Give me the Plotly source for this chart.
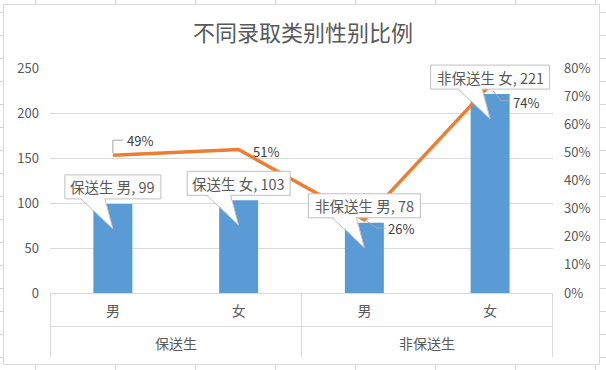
import plotly.graph_objects as go

# ---------------- data ----------------
groups = ["保送生", "保送生", "非保送生", "非保送生"]
genders = ["男", "女", "男", "女"]
group_names = ["保送生", "非保送生"]
counts = [99, 103, 78, 221]
ratios = [0.49, 0.51, 0.26, 0.74]
y_ticks = [0, 50, 100, 150, 200, 250]
y2_ticks = [0, 0.1, 0.2, 0.3, 0.4, 0.5, 0.6, 0.7, 0.8]
title_text = "不同录取类别性别比例"

# ---------------- style / layout ----------------
W, H = 606, 370
L, R, T, B = 50, 53, 68, 77
PW, PH = W - L - R, H - T - B
Y_MAX = 250
Y2_MAX = 0.8
FONT = "Noto Sans CJK SC, Noto Sans, sans-serif"
GRAY_TXT = "#595959"
DARK_TXT = "#404040"
LINE_GRAY = "#D9D9D9"
CALLOUT_BORDER = "#BFBFBF"
BOX_W = [96, 103, 112, 119]
BOX_H = 24
BOX_GAP = 5
LEADERS = [
    ("M 0,2 L 0,15 L 10,15", 27.5, 14.5),
    (None, 27.5, -2),
    ("M 2.7,-1.6 L 12.7,-8.2 L 21,-8.2", 37, -9),
    ("M 2.7,-5.8 L 11,-15.8 L 19,-15.8", 36, -18),
]

xs = list(range(len(counts)))


def pxx(px):
    return (px - L) / PW


def pxy(py):
    return (T + PH - py) / PH


fig = go.Figure()
fig.add_trace(go.Bar(x=xs, y=counts, width=0.31, marker_color="#5B9BD5",
                     marker_line_width=0, showlegend=False, hoverinfo="skip"))
fig.add_trace(go.Scatter(x=xs, y=ratios, yaxis="y2", mode="lines",
                         line=dict(color="#ED7D31", width=3.5),
                         showlegend=False, hoverinfo="skip"))

shapes = []
annotations = []

# callouts for bars
for i, (g, s, v) in enumerate(zip(groups, genders, counts)):
    w = BOX_W[i]
    anchor = v / Y_MAX
    common = dict(xref="x", yref="paper", xsizemode="pixel", ysizemode="pixel",
                  xanchor=xs[i], yanchor=anchor, layer="above")
    shapes.append(dict(type="rect", x0=-w / 2, x1=w / 2, y0=BOX_GAP, y1=BOX_GAP + BOX_H,
                       fillcolor="white", line=dict(color=CALLOUT_BORDER, width=1), **common))
    shapes.append(dict(type="path", path=f"M -32,{BOX_GAP+1.2} L 0,-25 L -8,{BOX_GAP+1.2} Z",
                       fillcolor="white", line=dict(width=0), **common))
    shapes.append(dict(type="path", path=f"M -32,{BOX_GAP} L 0,-25 L -8,{BOX_GAP}",
                       line=dict(color=CALLOUT_BORDER, width=1), **common))
    annotations.append(dict(x=xs[i], y=v, xref="x", yref="y", showarrow=False,
                            text=f"{g} {s}, {v}", yshift=BOX_GAP + BOX_H / 2,
                            xanchor="center", yanchor="middle",
                            font=dict(size=14.5, color=GRAY_TXT, family=FONT)))

# percentage labels
for i, r in enumerate(ratios):
    path, dx, dy = LEADERS[i]
    if path:
        shapes.append(dict(type="path", path=path, xref="x", yref="y2",
                           xsizemode="pixel", ysizemode="pixel",
                           xanchor=xs[i], yanchor=r, layer="above",
                           line=dict(color="#A6A6A6", width=1)))
    annotations.append(dict(x=xs[i], y=r, xref="x", yref="y2", showarrow=False,
                            text=f"{round(r*100)}%", xshift=dx, yshift=dy,
                            xanchor="center", yanchor="middle",
                            font=dict(size=13, color=DARK_TXT, family=FONT)))

# group labels
for k, gname in enumerate(group_names):
    annotations.append(dict(x=2 * k + 0.5, y=pxy(343), xref="x", yref="paper",
                            showarrow=False, text=gname, xanchor="center", yanchor="middle",
                            font=dict(size=14, color=GRAY_TXT, family=FONT)))

# category box lines
for xpx in [50.5, 301.5, 552.5]:
    shapes.append(dict(type="line", xref="paper", yref="paper", x0=pxx(xpx), x1=pxx(xpx),
                       y0=pxy(293), y1=pxy(357), line=dict(color=LINE_GRAY, width=1)))
shapes.append(dict(type="line", xref="paper", yref="paper", x0=pxx(50), x1=pxx(553),
                   y0=pxy(326.5), y1=pxy(326.5), line=dict(color=LINE_GRAY, width=1)))

# chart border and spreadsheet grid around it
shapes.append(dict(type="rect", xref="paper", yref="paper", x0=pxx(3.5), x1=pxx(599.5),
                   y0=pxy(364.5), y1=pxy(4.5), line=dict(color="#D9D9D9", width=1),
                   layer="below"))
for k in range(8):
    xp = 35.5 + 80 * k
    for (ya, yb) in [(0, 4.5), (364.5, 370)]:
        shapes.append(dict(type="line", xref="paper", yref="paper", x0=pxx(xp), x1=pxx(xp),
                           y0=pxy(ya), y1=pxy(yb), line=dict(color="#D4D4D4", width=1),
                           layer="below"))
for k in range(16):
    yp = 12.5 + 23 * k
    for (xa, xb) in [(0, 3.5), (599.5, 606)]:
        shapes.append(dict(type="line", xref="paper", yref="paper", x0=pxx(xa), x1=pxx(xb),
                           y0=pxy(yp), y1=pxy(yp), line=dict(color="#D4D4D4", width=1),
                           layer="below"))

fig.update_layout(
    width=W, height=H,
    margin=dict(l=L, r=R, t=T, b=B, autoexpand=False),
    paper_bgcolor="white", plot_bgcolor="white",
    font=dict(family=FONT, color=GRAY_TXT),
    title=dict(text=title_text, x=0.5, xref="container", xanchor="center",
               y=1 - 33 / H, yref="container", yanchor="middle",
               font=dict(size=22, color=GRAY_TXT, family=FONT)),
    bargap=0.69,
    xaxis=dict(range=[-0.5, 3.5], tickmode="array", tickvals=xs, ticktext=genders,
               showgrid=False, zeroline=False, showline=True, linecolor=LINE_GRAY,
               linewidth=1, ticks="", ticklabelstandoff=5,
               tickfont=dict(size=14, color=GRAY_TXT, family=FONT), fixedrange=True),
    yaxis=dict(range=[0, Y_MAX], tickmode="array", tickvals=y_ticks,
               showgrid=True, gridcolor=LINE_GRAY, gridwidth=1, zeroline=False,
               showline=False, ticks="", ticklabelstandoff=10,
               tickfont=dict(size=13, color=GRAY_TXT, family=FONT)),
    yaxis2=dict(range=[0, Y2_MAX], tickmode="array", tickvals=y2_ticks, tickformat=".0%",
                overlaying="y", side="right", showgrid=False, zeroline=False,
                showline=False, ticks="", ticklabelstandoff=10,
                tickfont=dict(size=13, color=GRAY_TXT, family=FONT)),
    shapes=shapes, annotations=annotations,
)

fig.write_html("out.html", config={"displayModeBar": False},
               post_script="document.body.style.margin='0';document.body.style.overflow='hidden';")
